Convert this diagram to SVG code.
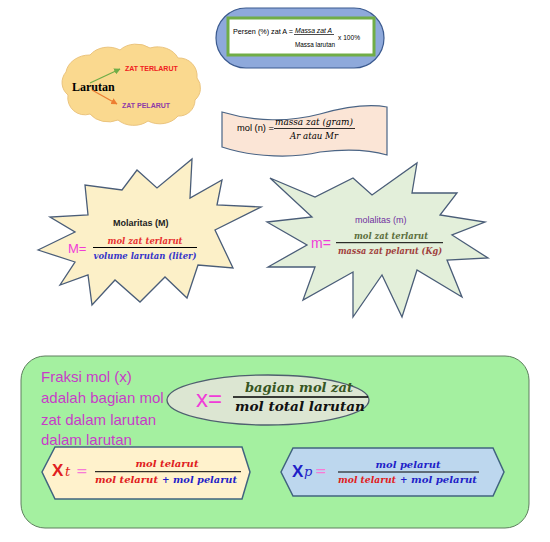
<svg xmlns="http://www.w3.org/2000/svg" width="550" height="542" viewBox="0 0 550 542">
<style>
.sans{font-family:"Liberation Sans",Arial,sans-serif}
.mf{font-family:"DejaVu Serif","Liberation Serif",serif;font-weight:bold;font-style:italic}
.star{stroke:#4A5D78;stroke-width:1.3;stroke-linejoin:miter}
.hex{stroke:#41647F;stroke-width:1.5}
.frac{stroke:#000;stroke-width:1}
.mag{fill:#F03CD8}
.pink{fill:#F77AD6}
</style>
<defs>
<marker id="ag" viewBox="0 0 10 10" refX="9" refY="5" markerWidth="5" markerHeight="5" orient="auto"><path d="M0,0 L10,5 L0,10 z" fill="#70AD47"/></marker>
<marker id="ao" viewBox="0 0 10 10" refX="9" refY="5" markerWidth="5" markerHeight="5" orient="auto"><path d="M0,0 L10,5 L0,10 z" fill="#ED7D31"/></marker>
</defs>
<rect width="550" height="542" fill="#fff"/>

<g id="persen">
<rect x="216" y="8" width="168" height="60" rx="30" fill="#8EA9DB" stroke="#3B5A8F" stroke-width="1.2"/>
<rect x="228" y="18" width="146" height="37" fill="#fff" stroke="#70AD47" stroke-width="3"/>
<text class="sans" x="233" y="34" font-size="8" textLength="60" lengthAdjust="spacingAndGlyphs">Persen (%) zat A =</text>
<text class="sans" x="295" y="32.5" font-size="8" textLength="37" lengthAdjust="spacingAndGlyphs" font-style="italic">Massa zat A</text>
<line x1="294" y1="34.5" x2="334" y2="34.5" stroke="#000" stroke-width="0.7"/>
<text class="sans" x="295" y="47" font-size="8" textLength="40" lengthAdjust="spacingAndGlyphs">Massa larutan</text>
<text class="sans" x="338" y="39.5" font-size="8" textLength="22" lengthAdjust="spacingAndGlyphs">x 100%</text>
</g>

<g id="larutan">
<path d="M68,95 A16,16 0 0 1 66,72 A24,20 0 0 1 90,55 A22,18 0 0 1 120,50 A22,18 0 0 1 150,48 A22,18 0 0 1 178,58 A18,18 0 0 1 197,78 A16,16 0 0 1 195,100 A16,16 0 0 1 178,116 A22,18 0 0 1 148,121 A22,18 0 0 1 118,120 A22,18 0 0 1 90,114 A17,17 0 0 1 68,95 Z" fill="#FAD98F" stroke="#EBC47E" stroke-width="1"/>
<text x="72" y="91" font-family="'Liberation Serif',serif" font-weight="bold" font-size="12" fill="#000">Larutan</text>
<text class="sans" x="125" y="71" font-size="7" font-weight="bold" fill="#F02020">ZAT TERLARUT</text>
<text class="sans" x="122" y="108" font-size="7" font-weight="bold" fill="#8E3AA8">ZAT PELARUT</text>
</g>

<g id="connectors">
<line x1="90" y1="83" x2="120" y2="69" stroke="#70AD47" stroke-width="1.3" marker-end="url(#ag)"/>
<line x1="92" y1="90" x2="117" y2="104" stroke="#ED7D31" stroke-width="1.3" marker-end="url(#ao)"/>
</g>

<g id="mol">
<path d="M222,112 C255,122 290,122 320,114 C345,107 370,104 387,107 L387,155 C370,150 345,149 320,152 C295,158 255,158 222,147 Z" fill="#FBE5D6" stroke="#4A6485" stroke-width="1.2"/>
<text class="sans" x="237" y="131" font-size="8.5" textLength="37" lengthAdjust="spacingAndGlyphs">mol (n) =</text>
<text x="314" y="125" text-anchor="middle" font-family="'DejaVu Serif',serif" font-style="italic" font-size="9" textLength="78" lengthAdjust="spacingAndGlyphs">massa zat (gram)</text>
<line x1="274" y1="128.5" x2="355" y2="128.5" stroke="#000" stroke-width="0.8"/>
<text x="314" y="139" text-anchor="middle" font-family="'DejaVu Serif',serif" font-style="italic" font-size="9" textLength="48" lengthAdjust="spacingAndGlyphs">Ar atau Mr</text>
</g>

<g id="molaritas">
<polygon class="star" fill="#FCF0C8" points="38,250 75,232 50,217 88,215 85,185 122,190 137,170 157,188 192,159 190,198 222,180 217,205 261,207 215,230 233,268 198,265 187,298 165,277 140,302 115,280 92,305 88,275 60,285 75,262"/>
<text class="sans" x="113" y="226" font-size="9" font-weight="bold" fill="#222">Molaritas (M)</text>
<text class="sans mag" x="68" y="253" font-size="13">M=</text>
<text class="mf" x="145" y="244" text-anchor="middle" font-size="9" fill="#E83030" textLength="75" lengthAdjust="spacingAndGlyphs">mol zat terlarut</text>
<line class="frac" x1="93" y1="247.5" x2="197" y2="247.5"/>
<text class="mf" x="145" y="259" text-anchor="middle" font-size="9" fill="#3535C8" textLength="103" lengthAdjust="spacingAndGlyphs">volume larutan (liter)</text>
</g>

<g id="molalitas">
<polygon class="star" fill="#E3EFDA" points="270,178 315,197 353,178 372,195 417,163 412,193 457,193 440,215 485,222 452,235 488,258 447,260 462,297 417,270 402,317 382,275 353,317 353,272 303,300 315,267 268,267 307,245 267,222 312,217"/>
<text class="sans" x="355" y="223" font-size="9" fill="#7030A0">molalitas (m)</text>
<text class="sans mag" x="311" y="248" font-size="14">m=</text>
<text class="mf" x="391" y="239" text-anchor="middle" font-size="9" fill="#5B6E3C" textLength="74" lengthAdjust="spacingAndGlyphs">mol zat terlarut</text>
<line class="frac" x1="336" y1="242.7" x2="443" y2="242.7"/>
<text class="mf" x="390" y="254" text-anchor="middle" font-size="9" fill="#A0403C" textLength="104" lengthAdjust="spacingAndGlyphs">massa zat pelarut (Kg)</text>
</g>

<g id="fraksi">
<rect x="21" y="356" width="508" height="172" rx="24" fill="#A4F0A0" stroke="#5F7F5F" stroke-width="1"/>
<g class="sans" font-size="15" fill="#C83CC8">
<text x="41" y="382">Fraksi mol (x)</text>
<text x="41" y="403">adalah bagian mol</text>
<text x="41" y="425">zat dalam larutan</text>
<text x="41" y="445">dalam larutan</text>
</g>
</g>

<g id="x-total">
<ellipse cx="268" cy="400" rx="101" ry="25" fill="#DCE6D2" stroke="#4F5F6F" stroke-width="1.3"/>
<text class="sans mag" x="196" y="407" font-size="24">x=</text>
<text class="mf" x="299" y="392" text-anchor="middle" font-size="13" fill="#375623" textLength="108" lengthAdjust="spacingAndGlyphs">bagian mol zat</text>
<line x1="233" y1="397" x2="368" y2="397" stroke="#000" stroke-width="1.3"/>
<text class="mf" x="300" y="411" text-anchor="middle" font-size="13" fill="#111" textLength="130" lengthAdjust="spacingAndGlyphs">mol total larutan</text>
</g>

<g id="xt">
<polygon class="hex" fill="#FFF2CC" points="42,472 55,447 242,447 250,472 242,499 55,499"/>
<text class="sans" x="52" y="476" font-size="17" font-weight="bold" fill="#E02020">X</text>
<text x="65" y="476" font-family="'DejaVu Serif',serif" font-style="italic" font-size="13" fill="#E02020">t</text>
<text class="pink" x="76" y="476" font-family="'DejaVu Serif',serif" font-size="14">=</text>
<text class="mf" x="167" y="467" text-anchor="middle" font-size="9" fill="#E02020" textLength="63" lengthAdjust="spacingAndGlyphs">mol telarut</text>
<line class="frac" x1="95" y1="471.7" x2="241" y2="471.7"/>
<text class="mf" x="95" y="483" font-size="9" fill="#E02020" textLength="63" lengthAdjust="spacingAndGlyphs">mol telarut</text>
<text class="mf" x="162" y="483" font-size="9" fill="#1F1FC8">+</text>
<text class="mf" x="173" y="483" font-size="9" fill="#1F1FC8" textLength="64" lengthAdjust="spacingAndGlyphs">mol pelarut</text>
</g>

<g id="xp">
<polygon class="hex" fill="#BDD7EE" points="281,472 293,448 493,448 504,472 493,496 293,496"/>
<text class="sans" x="292" y="477" font-size="17" font-weight="bold" fill="#1F1FC8">X</text>
<text x="304" y="476" font-family="'DejaVu Serif',serif" font-style="italic" font-size="13" fill="#1F1FC8">p</text>
<text class="pink" x="315" y="476" font-family="'DejaVu Serif',serif" font-size="14">=</text>
<text class="mf" x="408" y="468" text-anchor="middle" font-size="9" fill="#1F1FC8" textLength="65" lengthAdjust="spacingAndGlyphs">mol pelarut</text>
<line class="frac" x1="338" y1="472" x2="479" y2="472"/>
<text class="mf" x="338" y="482.5" font-size="9" fill="#E02020" textLength="58" lengthAdjust="spacingAndGlyphs">mol telarut</text>
<text class="mf" x="400" y="482.5" font-size="9" fill="#1F1FC8">+</text>
<text class="mf" x="411" y="482.5" font-size="9" fill="#1F1FC8" textLength="66" lengthAdjust="spacingAndGlyphs">mol pelarut</text>
</g>
</svg>
